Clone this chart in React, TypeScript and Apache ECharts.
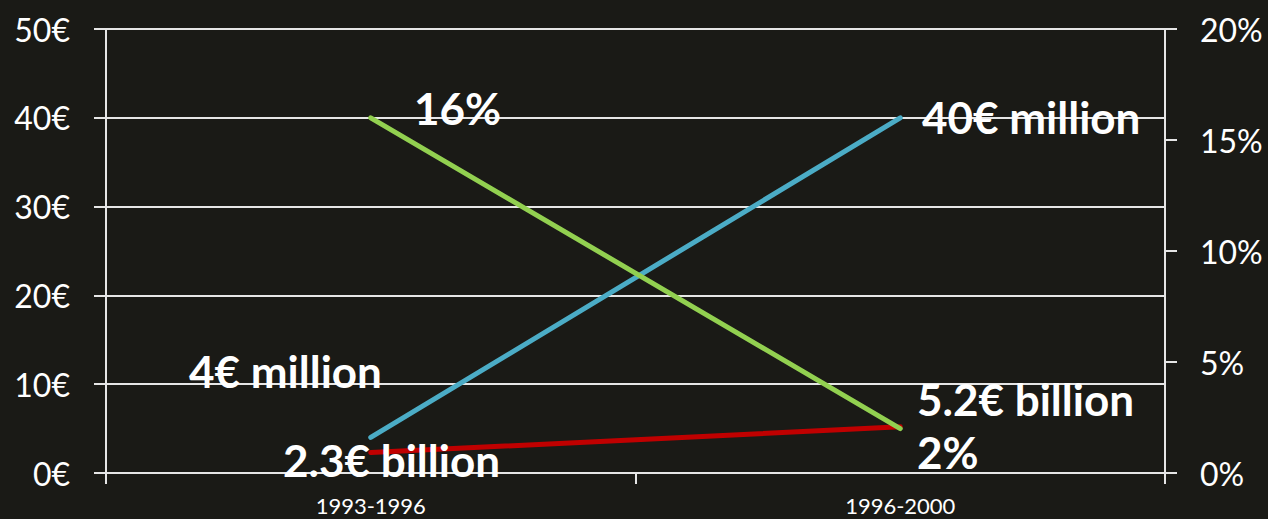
import React, { useEffect, useRef } from "react";
import * as echarts from "echarts";

const categories = ["1993-1996", "1996-2000"];
const investmentMillions = [4, 40];
const revenueBillions = [2.3, 5.2];
const sharePercent = [16, 2];
const leftAxis = { min: 0, max: 50, interval: 10 };
const rightAxis = { min: 0, max: 20, interval: 5 };

const BG = "#1a1a16";
const FONT = "Lato, 'Open Sans', sans-serif";

export default function App() {
  const ref = useRef<HTMLDivElement>(null);
  useEffect(() => {
    if (!ref.current) return;
    const chart = echarts.init(ref.current, null, { renderer: "svg" });
    const boldText = (text: string, x: number, y: number) => ({
      type: "text",
      left: x,
      top: y,
      style: {
        text,
        fill: "#ffffff",
        font: `bold 44px ${FONT}`,
      },
      z: 100,
    });
    chart.setOption({
      animation: false,
      backgroundColor: BG,
      textStyle: { fontFamily: FONT },
      grid: { left: 106, right: 103, top: 29, bottom: 46 },
      xAxis: {
        type: "category",
        data: categories,
        boundaryGap: true,
        axisLine: { show: true, lineStyle: { color: "#e6e6e6", width: 2 } },
        axisTick: { show: true, length: 11, lineStyle: { color: "#e6e6e6", width: 2 } },
        axisLabel: { color: "#ffffff", fontSize: 22, lineHeight: 22, margin: 21, fontFamily: FONT },
        splitLine: { show: false },
      },
      yAxis: [
        {
          type: "value",
          min: leftAxis.min,
          max: leftAxis.max,
          interval: leftAxis.interval,
          axisLine: { show: true, lineStyle: { color: "#e6e6e6", width: 2 } },
          axisTick: { show: true, length: 12, lineStyle: { color: "#e6e6e6", width: 2 } },
          axisLabel: { color: "#ffffff", fontSize: 32, margin: 36, formatter: "{value}€", fontFamily: FONT },
          splitLine: { show: true, lineStyle: { color: "#e6e6e6", width: 2 } },
        },
        {
          type: "value",
          position: "right",
          min: rightAxis.min,
          max: rightAxis.max,
          interval: rightAxis.interval,
          axisLine: { show: true, lineStyle: { color: "#e6e6e6", width: 2 } },
          axisTick: { show: true, length: 12, lineStyle: { color: "#e6e6e6", width: 2 } },
          axisLabel: { color: "#ffffff", fontSize: 32, margin: 35, formatter: "{value}%", fontFamily: FONT },
          splitLine: { show: false },
        },
      ],
      series: [
        {
          type: "line",
          name: "Revenue",
          data: revenueBillions,
          yAxisIndex: 0,
          showSymbol: false,
          lineStyle: { color: "#c00000", width: 5, cap: "round" },
          z: 3,
        },
        {
          type: "line",
          name: "Investment",
          data: investmentMillions,
          yAxisIndex: 0,
          showSymbol: false,
          lineStyle: { color: "#4bacc6", width: 5, cap: "round" },
          z: 4,
        },
        {
          type: "line",
          name: "Share",
          data: sharePercent,
          yAxisIndex: 1,
          showSymbol: false,
          lineStyle: { color: "#92d050", width: 5, cap: "round" },
          z: 5,
        },
      ],
      graphic: [
        boldText(`${sharePercent[0]}%`, 414, 86),
        boldText(`${investmentMillions[1]}€ million`, 922, 95),
        boldText(`${investmentMillions[0]}€ million`, 189, 349),
        boldText(`${revenueBillions[0]}€ billion`, 283, 438),
        boldText(`${revenueBillions[1]}€ billion`, 917, 377),
        boldText(`${sharePercent[1]}%`, 917, 430),
      ],
    });
    return () => chart.dispose();
  }, []);
  return (
    <div
      ref={ref}
      style={{ position: "fixed", left: 0, top: 0, width: 1268, height: 519 }}
    />
  );
}
